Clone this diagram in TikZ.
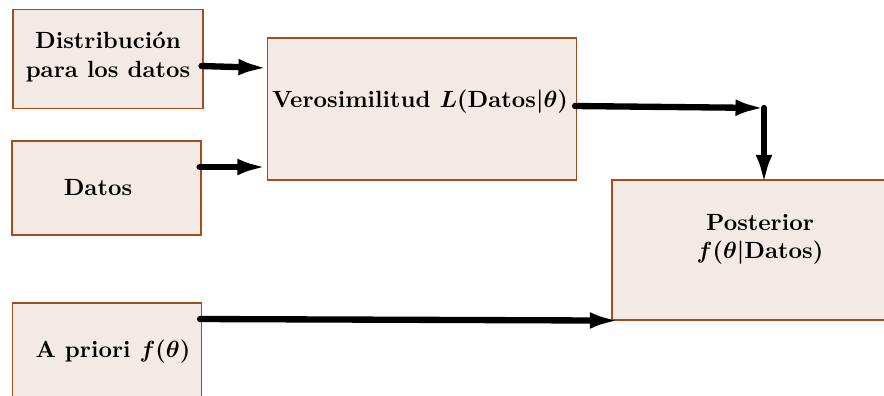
\documentclass[tikz,border=0pt]{standalone}
\usetikzlibrary{arrows.meta,calc}
\definecolor{boxfill}{RGB}{243,234,229}
\definecolor{boxdraw}{RGB}{170,75,30}
\def\PX{0.015cm}
\begin{document}
\begin{tikzpicture}[x=0.015cm,y=-0.015cm,
  box/.style={draw=boxdraw, fill=boxfill, line width=0.5pt, inner sep=0pt, rectangle},
  lbl/.style={font=\bfseries\boldmath, align=center, inner sep=0pt},
  conn/.style={line width=2.7pt, line cap=round, -{Latex[length=13pt,width=7pt]}}]
\useasboundingbox (0,0) rectangle (884,395);
\clip (0,0) rectangle (884,395);
% boxes
\node[box, minimum width=190*\PX, minimum height=99*\PX] (b1) at (108,59) {};
\node[box, minimum width=189*\PX, minimum height=94*\PX] (b2) at (106.5,188) {};
\node[box, minimum width=189*\PX, minimum height=100*\PX] (b3) at (107,353) {};
\node[box, minimum width=309*\PX, minimum height=142*\PX] (b4) at (422,109) {};
\node[box, minimum width=296*\PX, minimum height=140*\PX] (b5) at (760,250) {};
% labels
\node[lbl] (t1) at (108,57) {Distribución\\para los datos};
\node[lbl] (t2) at (98,188) {Datos};
\node[lbl] (t3) at (113,352) {A priori $f(\theta)$};
\node[lbl] (t4) at (420,102) {Verosimilitud $L($Datos$|\theta)$};
\node[lbl] (t5) at (760,239) {Posterior\\$f(\theta|$Datos$)$};
% connectors
\coordinate (c) at (764,108);
\draw[conn] ($(b1.east)+(-2,7)$) -- ($(b4.west)+(2,-41)$);
\draw[conn] ($(b2.east)+(-2,-21)$) -- ($(b4.west)+(1,58)$);
\draw[conn] ($(b4.east)+(-2,-3)$) -- ($(c)+(2,0)$);
\draw[conn] (c) -- ($(c |- b5.north)+(0,6)$);
\draw[conn] ($(b3.east)+(-2,-34)$) -- ($(b5.south west)+(9,0)$);
\end{tikzpicture}
\end{document}
